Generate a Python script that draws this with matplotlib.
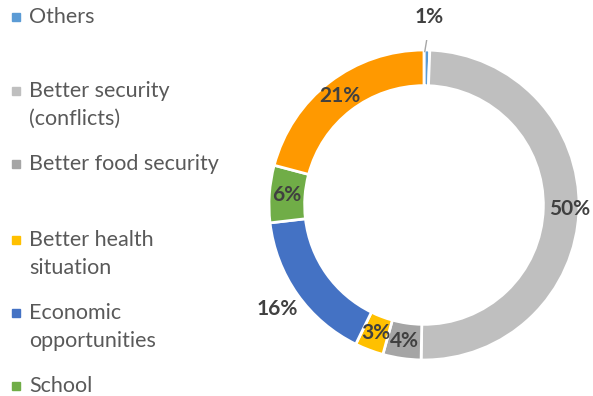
import numpy as np
import matplotlib.pyplot as plt

categories = ["Others", "Better security\n(conflicts)", "Better food security",
              "Better health\nsituation", "Economic\nopportunities", "School", "Other"]
values = [0.6, 50, 4, 3, 16, 6, 21]
colors = ["#5B9BD5", "#BFBFBF", "#A5A5A5", "#FFC000", "#4472C4", "#70AD47", "#FF9900"]

plt.rcParams['font.family'] = ['Lato', 'DejaVu Sans']

fig = plt.figure(figsize=(5.93, 3.96), dpi=100)

# donut centred at (424, 205) px, outer radius 155 px
cx, cy, R = 424, 205, 155
half = 165
ax = fig.add_axes([(cx - half) / 593, (396 - cy - half) / 396, 2 * half / 593, 2 * half / 396])
wedges, _ = ax.pie(values, colors=colors, startangle=90, counterclock=False,
                   radius=1, wedgeprops=dict(width=0.23, edgecolor='white', linewidth=2))
lim = half / R
ax.set_xlim(-lim, lim)
ax.set_ylim(-lim, lim)
ax.set_aspect('equal')
ax.axis('off')

# percentage labels
label_r = {4: 1.16, 1: 0.94}
for i, w in enumerate(wedges):
    mid = np.deg2rad((w.theta1 + w.theta2) / 2)
    r = label_r.get(i, 0.885)
    x, y = r * np.cos(mid), r * np.sin(mid)
    if i == 0:
        # small slice: label above with a leader line
        x, y = 0.03, 1.21
        ax.plot([0.005, 0.025], [0.99, 1.11], color='#A6A6A6', lw=1)
    ax.text(x, y, f"{round(values[i])}%", ha='center', va='center', fontsize=15,
            fontweight='bold', color='#404040')

# legend (manual, only six entries visible)
legend_y = [17, 91, 164, 240, 313, 386]
for name, col, ly in zip(categories[:6], colors[:6], legend_y):
    fig.patches.append(plt.Rectangle((12 / 593, 1 - (ly + 4) / 396), 8 / 593, 8 / 396,
                                     transform=fig.transFigure, color=col, figure=fig))
    for k, line in enumerate(name.split("\n")):
        fig.text(29 / 593, 1 - (ly + 28 * k) / 396, line, ha='left', va='center',
                 fontsize=15.5, color='#595959')

fig.savefig("out.png", dpi=100, facecolor='white')
